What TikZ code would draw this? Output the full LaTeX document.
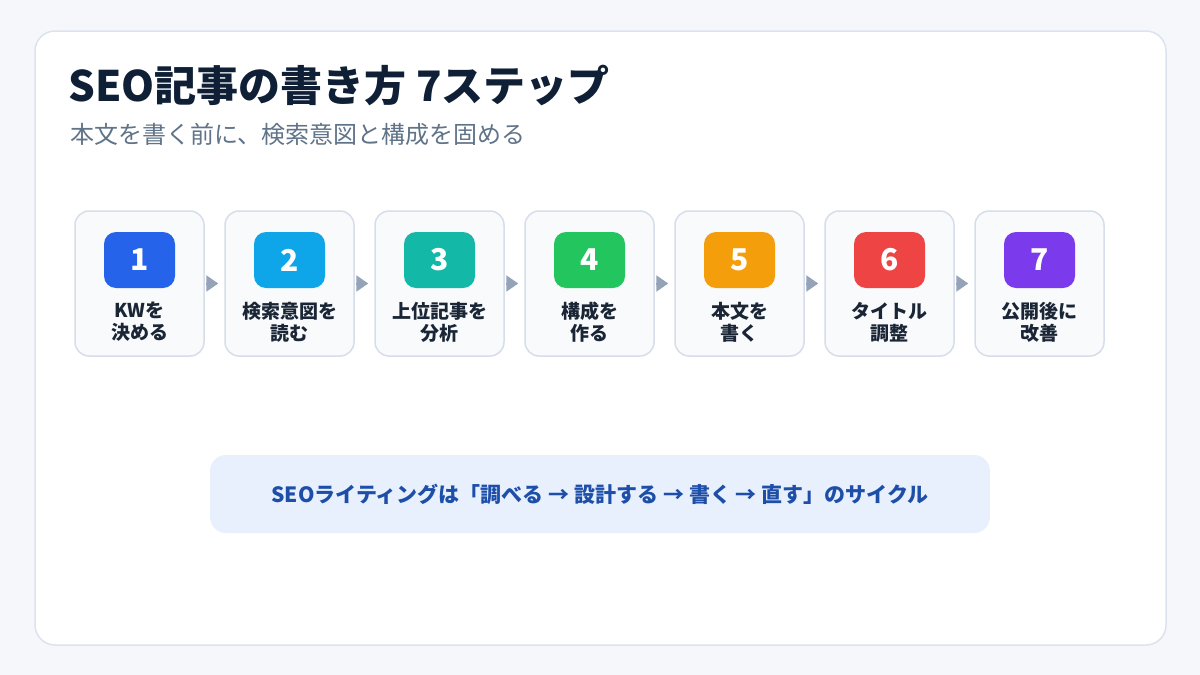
\documentclass[tikz,border=0pt]{standalone}
\usepackage{fontspec}
\setmainfont{Noto Sans CJK JP}
\usetikzlibrary{arrows.meta}
\definecolor{pagebg}{HTML}{F5F7FB}
\definecolor{cardline}{HTML}{DCE3EE}
\definecolor{titleink}{HTML}{0F1F35}
\definecolor{subink}{HTML}{5F7389}
\definecolor{stepfill}{HTML}{F8FAFC}
\definecolor{stepline}{HTML}{D5DEEA}
\definecolor{stepink}{HTML}{1A2535}
\definecolor{flowgray}{HTML}{94A3B8}
\definecolor{notefill}{HTML}{E8F0FD}
\definecolor{noteink}{HTML}{1E4FA8}
\definecolor{cA}{HTML}{2563EB}
\definecolor{cB}{HTML}{0EA5E9}
\definecolor{cC}{HTML}{14B8A6}
\definecolor{cD}{HTML}{22C55E}
\definecolor{cE}{HTML}{F59E0B}
\definecolor{cF}{HTML}{EF4444}
\definecolor{cG}{HTML}{7C3AED}
\begin{document}
\begin{tikzpicture}[x=1pt,y=-1pt,
  stepbox/.style={rectangle,draw=stepline,line width=1.5pt,fill=stepfill,rounded corners=14pt,minimum width=129pt,minimum height=145pt},
  badge/.style={rectangle,rounded corners=12pt,minimum width=71pt,minimum height=56pt,text=white,font=\fontsize{30}{30}\selectfont\bfseries},
  steptext/.style={align=center,inner sep=0pt,text=stepink,font=\fontsize{19}{22}\selectfont\bfseries},
  flow/.style={-{Triangle[length=12pt,width=16pt]},line width=2pt,flowgray}]
\useasboundingbox (0,0) rectangle (1200,675);
\fill[pagebg] (0,0) rectangle (1200,675);
\draw[cardline,line width=1.5pt,fill=white,rounded corners=20pt] (35,31) rectangle (1166,645);
\node[anchor=base west,inner sep=0pt,text=titleink,font=\fontsize{42}{42}\selectfont\bfseries] (title) at (68,101) {SEO記事の書き方 7ステップ};
\node[anchor=base west,inner sep=0pt,text=subink,font=\fontsize{24}{24}\selectfont] (sub) at (70,143) {本文を書く前に、検索意図と構成を固める};
% steps
\node[stepbox] (s1) at (139.5,283.5) {};
\node[stepbox] (s2) at (289.5,283.5) {};
\node[stepbox] (s3) at (439.5,283.5) {};
\node[stepbox] (s4) at (589.5,283.5) {};
\node[stepbox] (s5) at (739.5,283.5) {};
\node[stepbox] (s6) at (889.5,283.5) {};
\node[stepbox] (s7) at (1039.5,283.5) {};
\node[badge,fill=cA] (n1) at (139.5,260) {1};
\node[badge,fill=cB] (n2) at (289.5,260) {2};
\node[badge,fill=cC] (n3) at (439.5,260) {3};
\node[badge,fill=cD] (n4) at (589.5,260) {4};
\node[badge,fill=cE] (n5) at (739.5,260) {5};
\node[badge,fill=cF] (n6) at (889.5,260) {6};
\node[badge,fill=cG] (n7) at (1039.5,260) {7};
\node[steptext] (t1) at (139.5,322) {KWを\\決める};
\node[steptext] (t2) at (289.5,322) {検索意図を\\読む};
\node[steptext] (t3) at (439.5,322) {上位記事を\\分析};
\node[steptext] (t4) at (589.5,322) {構成を\\作る};
\node[steptext] (t5) at (739.5,322) {本文を\\書く};
\node[steptext] (t6) at (889.5,322) {タイトル\\調整};
\node[steptext] (t7) at (1039.5,322) {公開後に\\改善};
\draw[flow] ([xshift=1pt]s1.east) -- ([xshift=-6pt]s2.west);
\draw[flow] ([xshift=1pt]s2.east) -- ([xshift=-6pt]s3.west);
\draw[flow] ([xshift=1pt]s3.east) -- ([xshift=-6pt]s4.west);
\draw[flow] ([xshift=1pt]s4.east) -- ([xshift=-6pt]s5.west);
\draw[flow] ([xshift=1pt]s5.east) -- ([xshift=-6pt]s6.west);
\draw[flow] ([xshift=1pt]s6.east) -- ([xshift=-6pt]s7.west);
% cycle note
\node[rectangle,fill=notefill,rounded corners=16pt,minimum width=780pt,minimum height=78pt,text=noteink,font=\fontsize{21}{21}\selectfont\bfseries] (note) at (600,494) {SEOライティングは「調べる → 設計する → 書く → 直す」のサイクル};
\end{tikzpicture}
\end{document}
